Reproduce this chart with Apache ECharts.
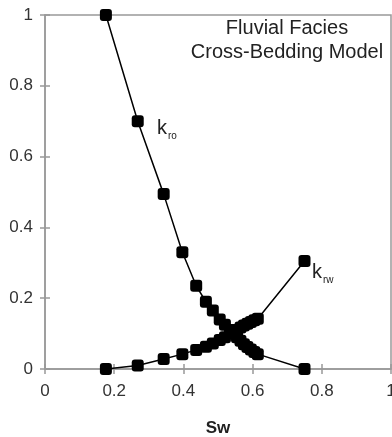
<!DOCTYPE html>
<html>
<head>
<meta charset="utf-8">
<script src="https://cdn.jsdelivr.net/npm/echarts@6/dist/echarts.min.js"></script>
<style>
  html, body { margin: 0; padding: 0; background: #fff; }
  #chart { width: 392px; height: 437px; }
</style>
</head>
<body>
<div id="chart"></div>
<script>
// water saturation and relative permeabilities
var swVals = [0.176, 0.268, 0.343, 0.397, 0.437, 0.465, 0.485, 0.505, 0.52, 0.535,
              0.545, 0.555, 0.565, 0.575, 0.585, 0.595, 0.605, 0.615, 0.75];
var kroVals = [1.0, 0.70, 0.494, 0.33, 0.235, 0.19, 0.165, 0.14, 0.125, 0.11,
               0.1, 0.09, 0.08, 0.07, 0.062, 0.055, 0.048, 0.042, 0.0];
var krwVals = [0.0, 0.01, 0.028, 0.042, 0.054, 0.063, 0.072, 0.082, 0.09, 0.1,
               0.105, 0.11, 0.117, 0.123, 0.128, 0.133, 0.138, 0.142, 0.305];
var titleLines = ['Fluvial Facies', 'Cross-Bedding Model'];

function pairs(xs, ys) {
    var res = [];
    xs.forEach(function (v, i) { res.push([v, ys[i]]); });
    return res;
}

var axisGrey = '#999';
var labelCol = '#333';
var font = 'Liberation Sans, Arial, sans-serif';

var chart = echarts.init(document.getElementById('chart'));

function baseAxis(extra) {
    var a = {
        type: 'value',
        min: 0,
        max: 1,
        interval: 0.2,
        splitLine: { show: false },
        axisLine: { show: true, onZero: false, lineStyle: { color: axisGrey, width: 1.5 } },
        axisTick: { show: true, length: 5, lineStyle: { color: axisGrey, width: 1.5 } }
    };
    for (var k in extra) a[k] = extra[k];
    return a;
}

var option = {
    animation: false,
    grid: {
        left: 45, right: 1, top: 15, bottom: 68,
        containLabel: false, outerBoundsMode: 'none',
        show: true, borderColor: axisGrey, borderWidth: 1.5
    },
    xAxis: [
        baseAxis({
            position: 'bottom',
            axisLabel: { color: labelCol, fontSize: 17, fontFamily: font, margin: 14 },
            name: 'Sw',
            nameLocation: 'middle',
            nameGap: 51,
            nameTextStyle: { color: '#222', fontSize: 17, fontWeight: 'bold', fontFamily: font }
        }),
        baseAxis({
            position: 'bottom',
            axisLine: { show: false },
            axisLabel: { show: false },
            axisTick: { show: true, inside: true, length: 5, lineStyle: { color: axisGrey, width: 1.5 } }
        })
    ],
    yAxis: [
        baseAxis({
            position: 'left',
            axisLabel: { color: labelCol, fontSize: 17, fontFamily: font, margin: 12 }
        }),
        baseAxis({
            position: 'left',
            axisLine: { show: false },
            axisLabel: { show: false },
            axisTick: { show: true, inside: true, length: 5, lineStyle: { color: axisGrey, width: 1.5 } }
        })
    ],
    series: [
        {
            name: 'kro', type: 'line', data: pairs(swVals, kroVals),
            symbol: 'roundRect', symbolSize: 12,
            itemStyle: { color: '#000' },
            lineStyle: { color: '#000', width: 1.5 }
        },
        {
            name: 'krw', type: 'line', data: pairs(swVals, krwVals),
            symbol: 'roundRect', symbolSize: 12,
            itemStyle: { color: '#000' },
            lineStyle: { color: '#000', width: 1.5 }
        }
    ],
    graphic: [
        { type: 'text',
          style: { text: titleLines.join('\n'), x: 287, y: 16, align: 'center', verticalAlign: 'top',
                   font: '20px ' + font, fill: '#222', lineHeight: 24 } },
        { type: 'text', style: { text: 'k', x: 157, y: 138, verticalAlign: 'bottom',
                   font: '20px ' + font, fill: '#222' } },
        { type: 'text', style: { text: 'ro', x: 168, y: 141, verticalAlign: 'bottom',
                   font: '10px ' + font, fill: '#222' } },
        { type: 'text', style: { text: 'k', x: 312, y: 282, verticalAlign: 'bottom',
                   font: '20px ' + font, fill: '#222' } },
        { type: 'text', style: { text: 'rw', x: 323, y: 285, verticalAlign: 'bottom',
                   font: '10px ' + font, fill: '#222' } }
    ]
};

chart.setOption(option);
</script>
</body>
</html>
